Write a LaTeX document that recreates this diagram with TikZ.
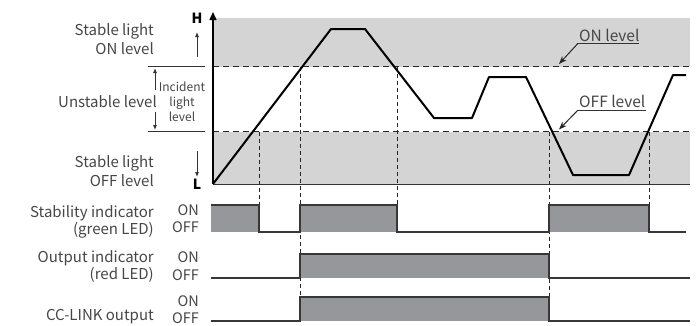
\documentclass[tikz,border=0pt]{standalone}
\usepackage{fontspec}
\setmainfont{Noto Sans CJK JP}
\usetikzlibrary{arrows.meta}
\definecolor{bandgray}{RGB}{212,212,213}
\definecolor{pulsegray}{RGB}{150,151,154}
\definecolor{txtgray}{RGB}{70,70,70}
\definecolor{sigline}{RGB}{55,55,55}
\begin{document}
\begin{tikzpicture}[x=1pt,y=-1pt,
  lbl/.style={font=\fontsize{15}{18}\selectfont, text=txtgray, inner sep=0pt, anchor=base east},
  onoff/.style={font=\fontsize{14.5}{17}\selectfont, text=txtgray, inner sep=0pt, anchor=base east},
  smalllbl/.style={font=\fontsize{12}{15}\selectfont, text=txtgray, inner sep=0pt, anchor=base},
  hl/.style={font=\bfseries\fontsize{14}{16}\selectfont, inner sep=0pt, anchor=base},
  band/.style={fill=bandgray},
  lvl/.style={line width=1.5pt, dash pattern=on 6pt off 4pt, draw=black!85},
  vdash/.style={line width=0.8pt, dash pattern=on 4pt off 3pt, draw=black!85},
  pulse/.style={fill=pulsegray},
  sig/.style={line width=1.3pt, draw=sigline},
  thinarrow/.style={line width=0.8pt, draw=black!80, -{Latex[length=5pt,width=4pt]}},
  note/.style={font=\fontsize{15.5}{18}\selectfont, text=txtgray, inner sep=0pt, anchor=base west}
]
\useasboundingbox (0,0) rectangle (700,325);

% bands
\fill[bandgray] (213,18) rectangle (690,66.7);
\fill[bandgray] (213,131.7) rectangle (690,184);

% level lines
\coordinate (onL) at (213,66.7);
\coordinate (onR) at (690,66.7);
\coordinate (offL) at (213,131.7);
\coordinate (offR) at (690,131.7);
\draw[lvl] (onL) -- (onR);
\draw[lvl] (offL) -- (offR);
\draw[line width=1pt, draw=black!80] (213,184) -- (690,184);

% left level marks
\draw[line width=0.9pt, draw=black!80] (148,66.7) -- (205,66.7);
\draw[line width=0.9pt, draw=black!80] (148,131.7) -- (205,131.7);

% axis
\coordinate (ax0) at (213,184);
\coordinate (axT) at (213,12);
\draw[line width=1.3pt, -{Triangle[length=8pt,width=7pt]}] (ax0) -- (axT);
\node[hl] (H) at (197,23) {H};
\node[hl] (L) at (197,189) {L};

% small arrows
\draw[thinarrow] (197,57) -- (197,32);
\draw[thinarrow] (197,151) -- (197,177);
\draw[thinarrow] (155,90) -- (155,68);
\draw[thinarrow] (155,112) -- (155,130);

% left labels
\node[lbl] (s1) at (154,35) {Stable light};
\node[lbl] (s2) at (154,54) {ON level};
\node[lbl] (u1) at (157,107) {Unstable level};
\node[lbl] (s3) at (154,167) {Stable light};
\node[lbl] (s4) at (154,186) {OFF level};
\node[smalllbl] (i1) at (182,91) {Incident};
\node[smalllbl] (i2) at (182,106) {light};
\node[smalllbl] (i3) at (182,121) {level};

% vertical dashed lines
\draw[vdash] (259,131.7) -- (259,205);
\draw[vdash] (300,66.7) -- (300,297);
\draw[vdash] (397,66.7) -- (397,205);
\draw[vdash] (549,131.7) -- (549,297);
\draw[vdash] (649,131.7) -- (649,205);

% incident light curve
\draw[line width=2pt, line join=round] (213,184) -- (331,29) -- (365,29) -- (434,118) -- (472,118) -- (489,77) -- (526,77) -- (573,175) -- (629,175) -- (673,75) -- (686,75);

% right annotations
\node[note] (onlv) at (579,41) {ON level};
\node[note] (offlv) at (579,107) {OFF level};
\coordinate (onU) at (578,43.3);
\coordinate (offU) at (578,110);
\draw[line width=0.8pt, draw=black!80] (onU) -- (639,43.3);
\draw[line width=0.8pt, draw=black!80] (offU) -- (646,110);
\draw[line width=1pt, draw=black!85, -{Stealth[length=8pt,width=6pt]}] (onU) -- (559,64);
\draw[line width=1pt, draw=black!85, -{Stealth[length=8pt,width=6pt]}] (offU) -- (559,129.5);

% timing labels
\node[lbl] (t1) at (154,217) {Stability indicator};
\node[lbl] (t2) at (154,234) {(green LED)};
\node[lbl] (t3) at (154,262) {Output indicator};
\node[lbl] (t4) at (154,279) {(red LED)};
\node[lbl] (t5) at (154,320) {CC-LINK output};
\node[onoff] (on1) at (199,215) {ON};
\node[onoff] (off1) at (199,232) {OFF};
\node[onoff] (on2) at (199,262) {ON};
\node[onoff] (off2) at (199,280) {OFF};
\node[onoff] (on3) at (199,306) {ON};
\node[onoff] (off3) at (199,323) {OFF};

% stability indicator
\fill[pulse] (211,205) rectangle (259,232);
\fill[pulse] (300,205) rectangle (397,232);
\fill[pulse] (549,205) rectangle (649,232);
\draw[sig] (211,205) -- (259,205) -- (259,232) -- (300,232) -- (300,205) -- (397,205) -- (397,232) -- (549,232) -- (549,205) -- (649,205) -- (649,232) -- (686,232);

% output indicator
\fill[pulse] (300,254) rectangle (549,278);
\draw[sig] (211,278) -- (300,278) -- (300,254) -- (549,254) -- (549,278) -- (690,278);

% CC-LINK output
\fill[pulse] (300,297) rectangle (549,321);
\draw[sig] (211,321) -- (300,321) -- (300,297) -- (549,297) -- (549,321) -- (690,321);
\end{tikzpicture}
\end{document}
